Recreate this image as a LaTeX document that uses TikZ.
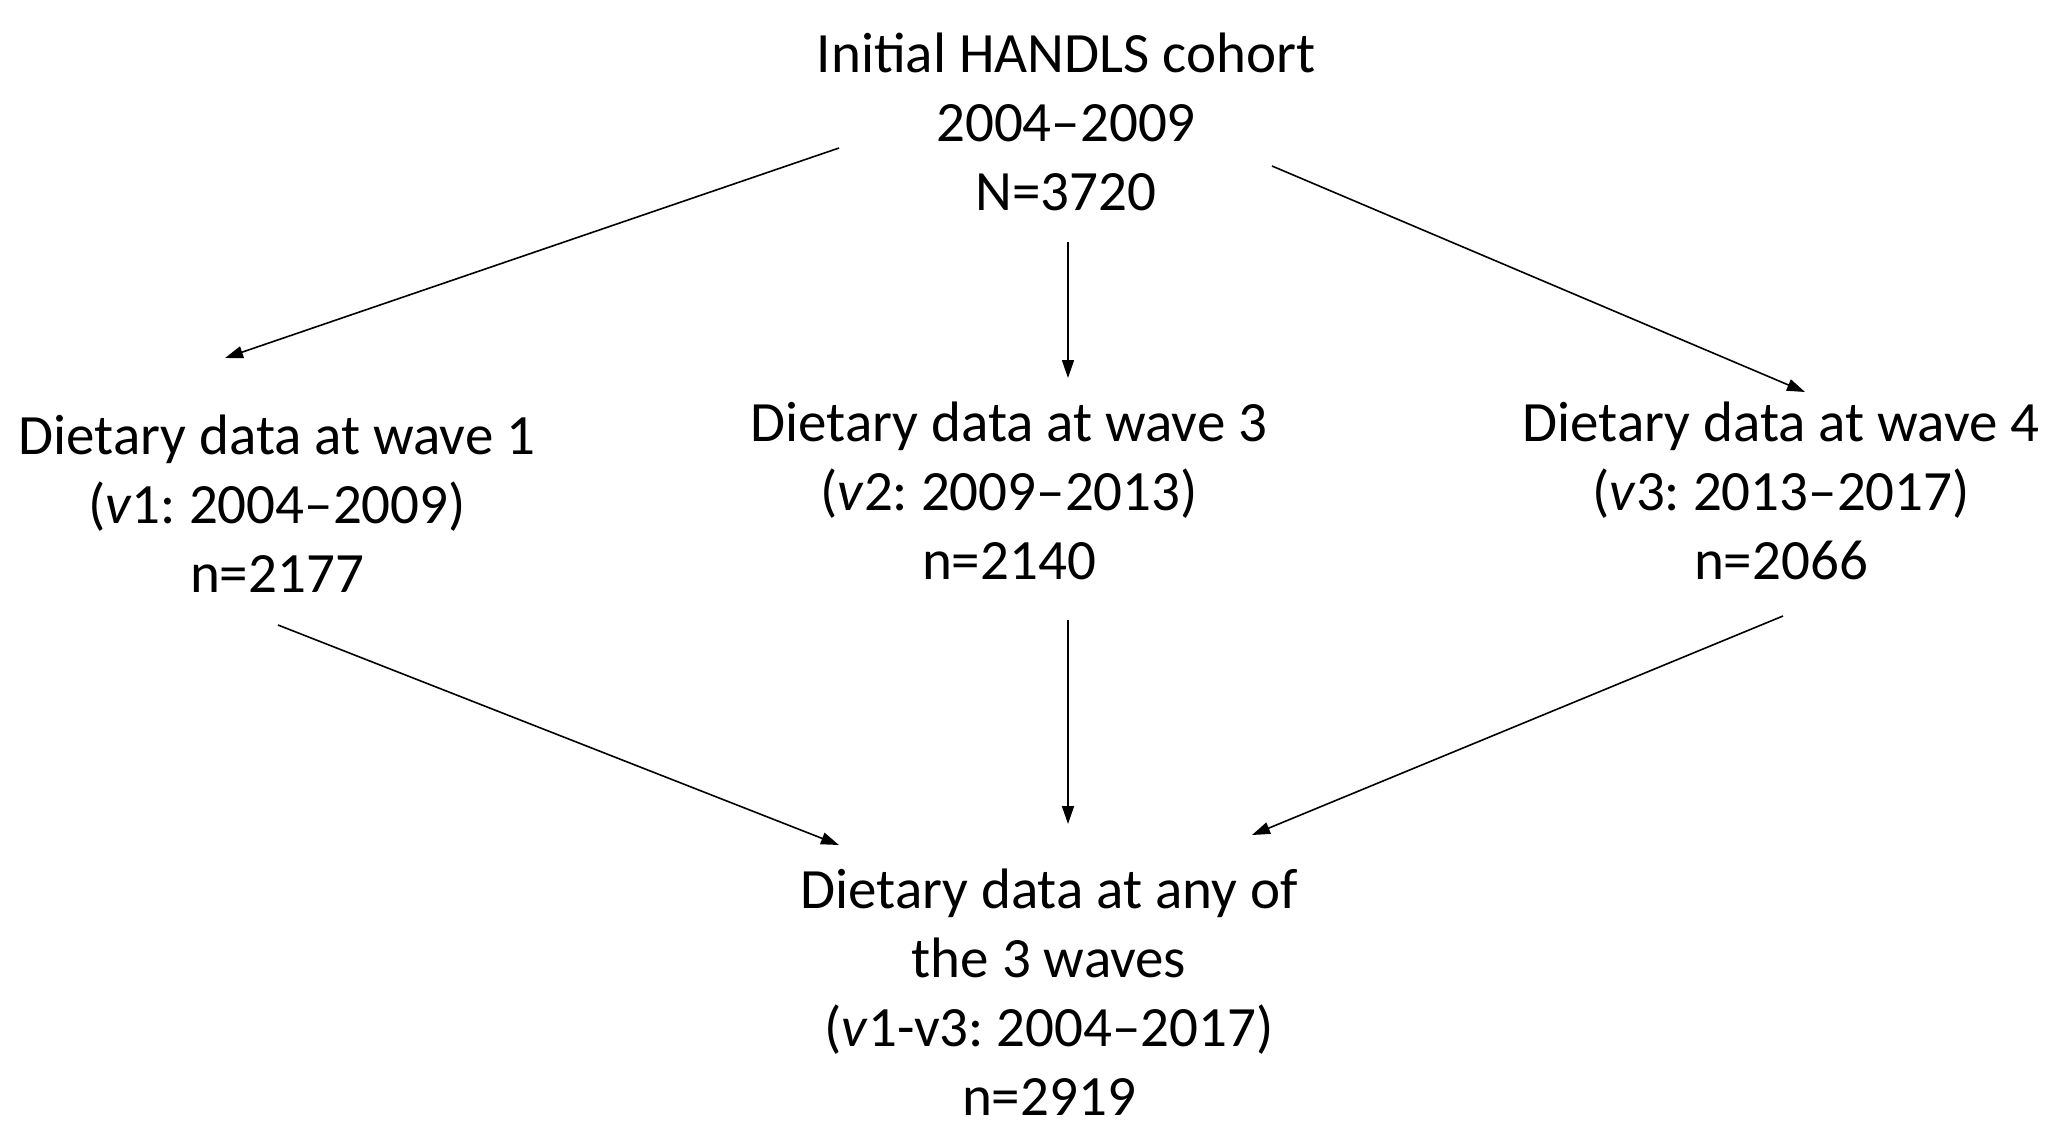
\documentclass[tikz,border=0pt]{standalone}
\usepackage{fontspec}
\setmainfont{Carlito}
\usetikzlibrary{arrows.meta}
\usetikzlibrary{positioning}

\begin{document}
\frenchspacing
\begin{tikzpicture}[x=0.5pt,y=-0.5pt,label/.style={align=center, inner sep=0pt, font=\fontsize{28.5}{34.5}\selectfont}]
    \tikzset{link/.style={line width=0.8pt, >={Triangle[length=9pt,width=6pt]}, ->}}
    \useasboundingbox (0,0) rectangle (2067,1142);

    \node[label] (top) at (1066,122) {Initial HANDLS cohort\\2004--2009\\N=3720};
    \node[label] (w1) at (277,504) {Dietary data at wave 1\\(\textit{v}1: 2004--2009)\\n=2177};
    \node[label] (w3) at (1009,491) {Dietary data at wave 3\\(\textit{v}2: 2009--2013)\\n=2140};
    \node[label] (w4) at (1781,491) {Dietary data at wave 4\\(\textit{v}3: 2013--2017)\\n=2066};
    \node[label] (all) at (1049,992) {Dietary data at any of\\the 3 waves\\(\textit{v}1-v3: 2004--2017)\\n=2919};

    % arrow ends
    \coordinate (top1) at (839,148);  \coordinate (w1in) at (225,358);
    \coordinate (top3) at (1068,242); \coordinate (w3in) at (1068,378);
    \coordinate (top4) at (1272,166); \coordinate (w4in) at (1805,392);
    \coordinate (w1out) at (278,625); \coordinate (all1) at (839,845);
    \coordinate (w3out) at (1068,620); \coordinate (all3) at (1068,824);
    \coordinate (w4out) at (1783,616); \coordinate (all4) at (1252,835);

    \draw[link] (top1) -- (w1in);
    \draw[link] (top3) -- (w3in);
    \draw[link] (top4) -- (w4in);
    \draw[link] (w1out) -- (all1);
    \draw[link] (w3out) -- (all3);
    \draw[link] (w4out) -- (all4);
\end{tikzpicture}
\end{document}
